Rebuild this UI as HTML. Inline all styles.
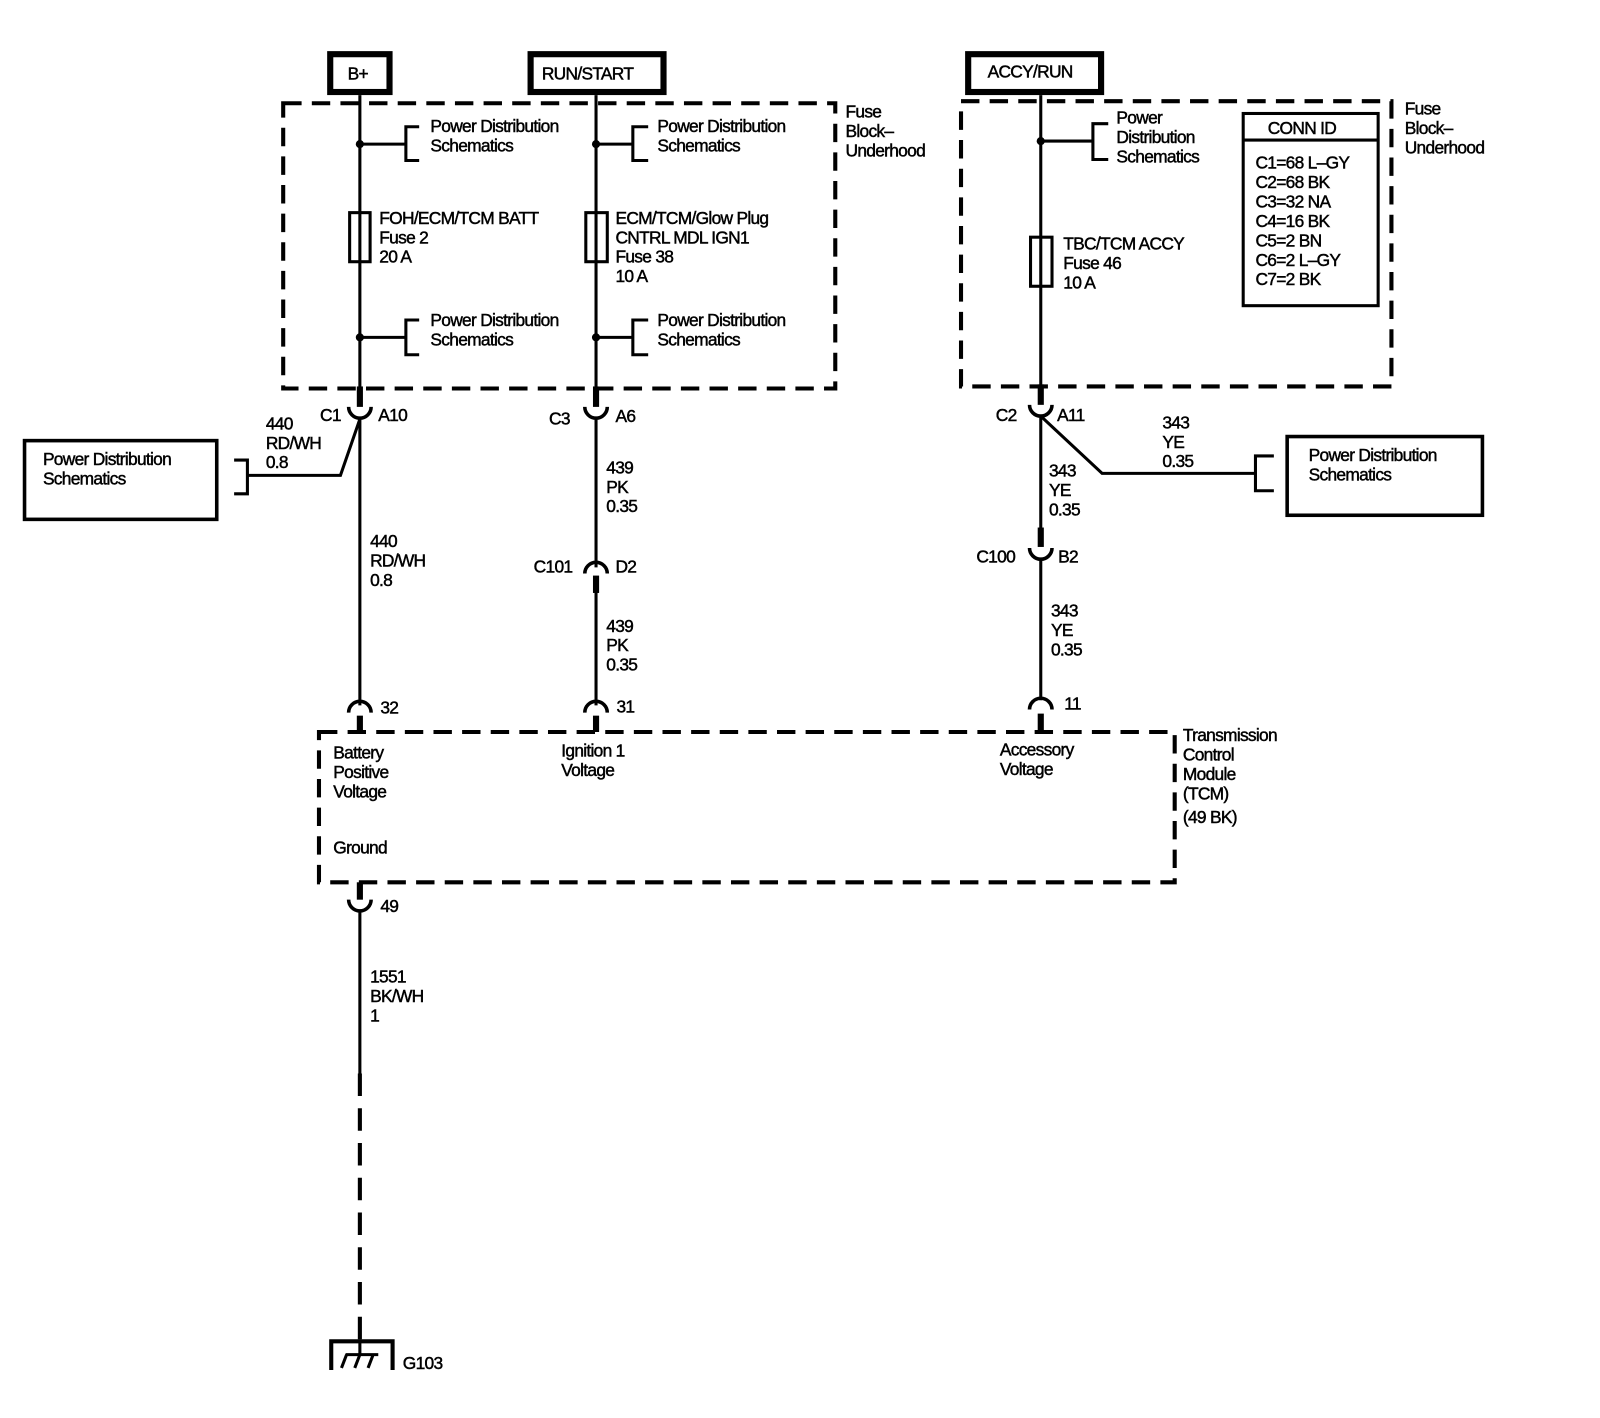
<!DOCTYPE html>
<html><head><meta charset="utf-8"><style>
html,body{margin:0;padding:0;background:#fff}
svg{display:block}
text{font-family:"Liberation Sans",Arial,sans-serif;font-size:17px;fill:#000;stroke:#000;stroke-width:0.45px;letter-spacing:-0.7px}
</style></head><body>
<svg width="1600" height="1418" viewBox="0 0 1565 1387" preserveAspectRatio="none" xmlns="http://www.w3.org/2000/svg">
<g fill="none" stroke="#000">
<rect x="323" y="53" width="58" height="37" stroke-width="6"/>
<rect x="519" y="53" width="130" height="37" stroke-width="6"/>
<rect x="947" y="53" width="130" height="37" stroke-width="6"/>
<rect x="277" y="101" width="540" height="279" stroke-width="4" stroke-dasharray="18,10"/>
<rect x="940" y="99" width="421" height="279" stroke-width="4" stroke-dasharray="18,10"/>
<line x1="352" y1="93" x2="352" y2="390" stroke-width="3"/>
<line x1="583" y1="93" x2="583" y2="390" stroke-width="3"/>
<line x1="1018" y1="93" x2="1018" y2="390" stroke-width="3"/>
<line x1="352" y1="378" x2="352" y2="398" stroke-width="6"/>
<line x1="583" y1="378" x2="583" y2="398" stroke-width="6"/>
<line x1="1018" y1="376" x2="1018" y2="396" stroke-width="6"/>
<path d="M341,398 A11,11 0 0 0 363,398" stroke-width="3.5"/>
<path d="M572,398 A11,11 0 0 0 594,398" stroke-width="3.5"/>
<path d="M1007,396 A11,11 0 0 0 1029,396" stroke-width="3.5"/>
<path d="M352,141 H397 M410,124 H397 V157 H410" stroke-width="3"/>
<path d="M352,330 H397 M410,313 H397 V347 H410" stroke-width="3"/>
<path d="M583,141 H619 M634,124 H619 V157 H634" stroke-width="3"/>
<path d="M583,330 H619 M634,313 H619 V347 H634" stroke-width="3"/>
<path d="M1018,138 H1069 M1084,121 H1069 V156 H1084" stroke-width="3"/>
<rect x="342" y="208" width="20" height="48" stroke-width="3" fill="#fff"/>
<line x1="352" y1="208" x2="352" y2="256" stroke-width="3"/>
<rect x="573" y="208" width="21" height="48" stroke-width="3" fill="#fff"/>
<line x1="583" y1="208" x2="583" y2="256" stroke-width="3"/>
<rect x="1008" y="232" width="21" height="48" stroke-width="3" fill="#fff"/>
<line x1="1018" y1="232" x2="1018" y2="280" stroke-width="3"/>
<rect x="1216" y="111" width="132" height="188" stroke-width="3"/>
<line x1="1216" y1="137" x2="1348" y2="137" stroke-width="3"/>
<line x1="352" y1="408" x2="352" y2="690" stroke-width="3"/>
<path d="M352,410 L333,465 H242 M229,450 H242 V483 H229" stroke-width="3"/>
<rect x="24" y="431" width="188" height="77" stroke-width="3.5"/>
<line x1="583" y1="408" x2="583" y2="555" stroke-width="3"/>
<path d="M572,561 A11,11 0 0 1 594,561" stroke-width="3.5"/>
<line x1="583" y1="563" x2="583" y2="580" stroke-width="6"/>
<line x1="583" y1="578" x2="583" y2="690" stroke-width="3"/>
<line x1="1018" y1="406" x2="1018" y2="520" stroke-width="3"/>
<path d="M1018,407 L1078,463 H1228 M1246,446 H1228 V480 H1246" stroke-width="3"/>
<rect x="1259" y="427" width="191" height="77" stroke-width="3.5"/>
<line x1="1018" y1="516" x2="1018" y2="535" stroke-width="6"/>
<path d="M1007,536 A11,11 0 0 0 1029,536" stroke-width="3.5"/>
<line x1="1018" y1="546" x2="1018" y2="685" stroke-width="3"/>
<path d="M341,697 A11,11 0 0 1 363,697" stroke-width="3.5"/>
<line x1="352" y1="700" x2="352" y2="716" stroke-width="6"/>
<path d="M572,697 A11,11 0 0 1 594,697" stroke-width="3.5"/>
<line x1="583" y1="700" x2="583" y2="716" stroke-width="6"/>
<path d="M1007,694 A11,11 0 0 1 1029,694" stroke-width="3.5"/>
<line x1="1018" y1="698" x2="1018" y2="716" stroke-width="6"/>
<rect x="312" y="716" width="837" height="147" stroke-width="4" stroke-dasharray="18,10"/>
<line x1="352" y1="863" x2="352" y2="880" stroke-width="6"/>
<path d="M341,880 A11,11 0 0 0 363,880" stroke-width="3.5"/>
<line x1="352" y1="890" x2="352" y2="1050" stroke-width="3"/>
<line x1="352" y1="1050" x2="352" y2="1310" stroke-width="4" stroke-dasharray="22,12"/>
<path d="M324,1340 V1312 H384 V1340" stroke-width="4"/>
<line x1="352" y1="1310" x2="352" y2="1325" stroke-width="3"/>
<path d="M338,1325 H370 M339,1325 L334,1338 M352,1325 L347,1338 M365,1325 L360,1338" stroke-width="3"/>
</g>
<g fill="#000">
<circle cx="352" cy="141" r="4"/><circle cx="352" cy="330" r="4"/>
<circle cx="583" cy="141" r="4"/><circle cx="583" cy="330" r="4"/>
<circle cx="1018" cy="138" r="4"/>
</g>
<text x="340" y="78">B+</text>
<text x="530" y="78">RUN/START</text>
<text x="966" y="76">ACCY/RUN</text>
<text x="421" y="129">Power Distribution</text><text x="421" y="148">Schematics</text>
<text x="643" y="129">Power Distribution</text><text x="643" y="148">Schematics</text>
<text x="421" y="319">Power Distribution</text><text x="421" y="338">Schematics</text>
<text x="643" y="319">Power Distribution</text><text x="643" y="338">Schematics</text>
<text x="371" y="219">FOH/ECM/TCM BATT</text><text x="371" y="238">Fuse 2</text><text x="371" y="257">20 A</text>
<text x="602" y="219">ECM/TCM/Glow Plug</text><text x="602" y="238">CNTRL MDL IGN1</text><text x="602" y="257">Fuse 38</text><text x="602" y="276">10 A</text>
<text x="827" y="115">Fuse</text><text x="827" y="134">Block–</text><text x="827" y="153">Underhood</text>
<text x="1092" y="121">Power</text><text x="1092" y="140">Distribution</text><text x="1092" y="159">Schematics</text>
<text x="1040" y="244">TBC/TCM ACCY</text><text x="1040" y="263">Fuse 46</text><text x="1040" y="282">10 A</text>
<text x="1240" y="131">CONN ID</text>
<text x="1228" y="165">C1=68 L–GY</text><text x="1228" y="184">C2=68 BK</text><text x="1228" y="203">C3=32 NA</text>
<text x="1228" y="222">C4=16 BK</text><text x="1228" y="241">C5=2 BN</text><text x="1228" y="260">C6=2 L–GY</text><text x="1228" y="279">C7=2 BK</text>
<text x="1374" y="112">Fuse</text><text x="1374" y="131">Block–</text><text x="1374" y="150">Underhood</text>
<text x="313" y="412">C1</text><text x="370" y="412">A10</text>
<text x="537" y="415">C3</text><text x="602" y="413">A6</text>
<text x="974" y="412">C2</text><text x="1034" y="412">A11</text>
<text x="260" y="420">440</text><text x="260" y="439">RD/WH</text><text x="260" y="458">0.8</text>
<text x="42" y="455">Power Distribution</text><text x="42" y="474">Schematics</text>
<text x="362" y="535">440</text><text x="362" y="554">RD/WH</text><text x="362" y="573">0.8</text>
<text x="593" y="463">439</text><text x="593" y="482">PK</text><text x="593" y="501">0.35</text>
<text x="522" y="560">C101</text><text x="602" y="560">D2</text>
<text x="593" y="618">439</text><text x="593" y="637">PK</text><text x="593" y="656">0.35</text>
<text x="1137" y="419">343</text><text x="1137" y="438">YE</text><text x="1137" y="457">0.35</text>
<text x="1026" y="466">343</text><text x="1026" y="485">YE</text><text x="1026" y="504">0.35</text>
<text x="1280" y="451">Power Distribution</text><text x="1280" y="470">Schematics</text>
<text x="955" y="550">C100</text><text x="1035" y="550">B2</text>
<text x="1028" y="603">343</text><text x="1028" y="622">YE</text><text x="1028" y="641">0.35</text>
<text x="372" y="698">32</text><text x="603" y="697">31</text><text x="1041" y="694">11</text>
<text x="326" y="742">Battery</text><text x="326" y="761">Positive</text><text x="326" y="780">Voltage</text>
<text x="549" y="740">Ignition 1</text><text x="549" y="759">Voltage</text>
<text x="978" y="739">Accessory</text><text x="978" y="758">Voltage</text>
<text x="326" y="835">Ground</text>
<text x="1157" y="725">Transmission</text><text x="1157" y="744">Control</text><text x="1157" y="763">Module</text><text x="1157" y="782">(TCM)</text><text x="1157" y="805">(49 BK)</text>
<text x="372" y="892">49</text>
<text x="362" y="961">1551</text><text x="362" y="980">BK/WH</text><text x="362" y="999">1</text>
<text x="394" y="1339">G103</text>
</svg>
</body></html>
